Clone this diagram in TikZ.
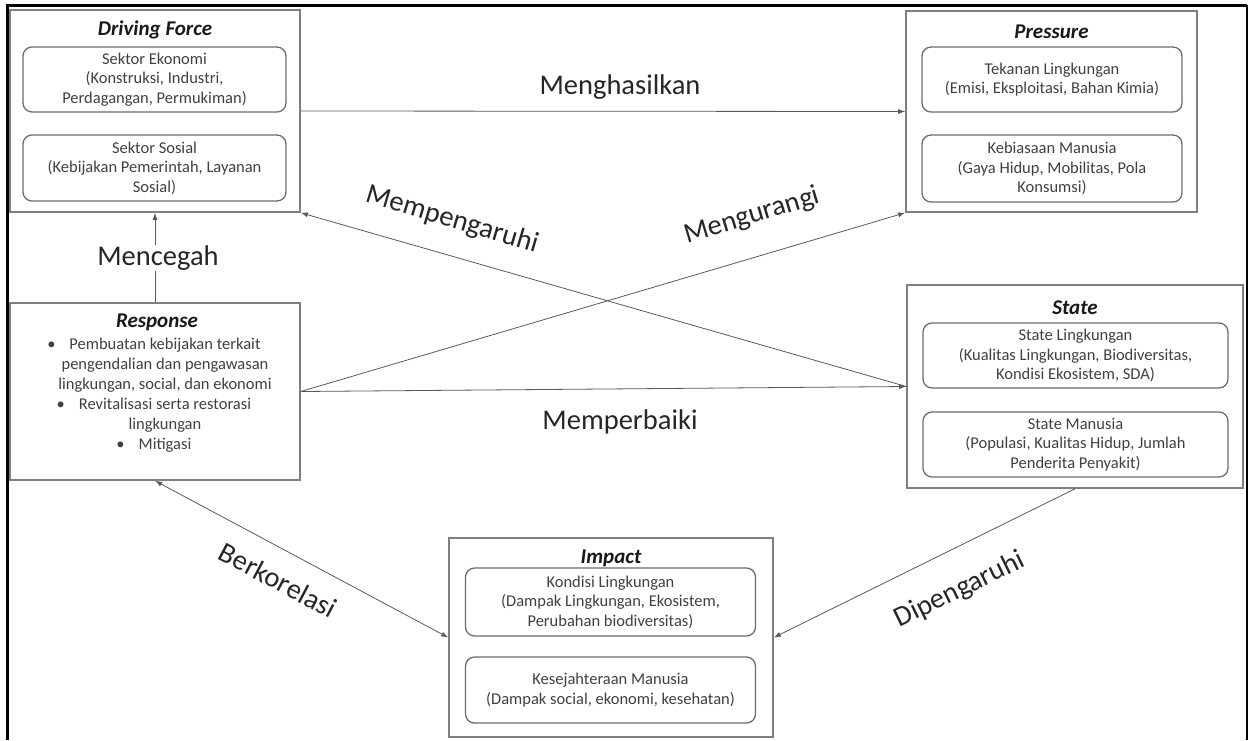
\documentclass[tikz,border=0pt]{standalone}
\usepackage{fontspec}
\setmainfont{Carlito}
\usetikzlibrary{arrows.meta}
\definecolor{boxgray}{HTML}{7F7F7F}
\definecolor{txtgray}{HTML}{404040}
\definecolor{linegray}{HTML}{595959}
\tikzset{
  outer/.style={draw=boxgray, line width=1.6pt, fill=white, inner sep=0pt},
  inbox/.style={draw=boxgray!85!black, line width=1.3pt, rounded corners=9pt, inner sep=0pt, align=center, text=txtgray, font=\fontsize{16.5}{19.5}\selectfont},
  ttl/.style={font=\fontsize{21}{25}\selectfont\bfseries\itshape, text=black!90, inner sep=0pt},
  bodytxt/.style={align=center, text=txtgray, inner sep=0pt, font=\fontsize{16.5}{20}\selectfont},
  conn/.style={draw=linegray, line width=0.8pt, -{Latex[length=7pt,width=5pt]}},
  lbl/.style={font=\fontsize{28.5}{32}\selectfont, text=black!85, inner sep=1pt},
}
\newcommand{\bul}{\llap{\textbullet\hspace{14pt}}}
\begin{document}
\begin{tikzpicture}[x=1pt,y=-1pt]
\useasboundingbox (0,0) rectangle (1248,740);
% frame
\draw[line width=3pt] (7,740) -- (7,5) -- (1247,5);
\draw[line width=2pt] (1247,5) -- (1247,740);

% Driving Force
\node[outer, minimum width=290pt, minimum height=202pt] (df) at (155,111) {};
\node[ttl] (dft) at (155,30) {Driving Force};
\node[inbox, minimum width=263pt, minimum height=65pt] (df1) at (154.5,79.5) {Sektor Ekonomi\\(Konstruksi, Industri,\\Perdagangan, Permukiman)};
\node[inbox, minimum width=263pt, minimum height=66pt] (df2) at (154.5,168) {Sektor Sosial\\(Kebijakan Pemerintah, Layanan\\Sosial)};

% Pressure
\node[outer, minimum width=291pt, minimum height=201pt] (pr) at (1051.5,111.5) {};
\node[ttl] (prt) at (1051.5,32) {Pressure};
\node[inbox, minimum width=260pt, minimum height=65pt] (pr1) at (1052,79.5) {Tekanan Lingkungan\\(Emisi, Eksploitasi, Bahan Kimia)};
\node[inbox, minimum width=260pt, minimum height=67pt] (pr2) at (1052,168.5) {Kebiasaan Manusia\\(Gaya Hidup, Mobilitas, Pola\\Konsumsi)};

% Response
\node[outer, minimum width=290pt, minimum height=177pt] (rs) at (155,391.5) {};
\node[ttl] (rst) at (157,322) {Response};
\node[bodytxt] (rsb) at (165,395) {\bul Pembuatan kebijakan terkait\\pengendalian dan pengawasan\\lingkungan, social, dan ekonomi\\\bul Revitalisasi serta restorasi\\lingkungan\\\bul Mitigasi};

% State
\node[outer, minimum width=336pt, minimum height=203pt] (st) at (1075,386.5) {};
\node[ttl] (stt) at (1075,308) {State};
\node[inbox, minimum width=305pt, minimum height=65pt] (st1) at (1075.5,355.5) {State Lingkungan\\(Kualitas Lingkungan, Biodiversitas,\\Kondisi Ekosistem, SDA)};
\node[inbox, minimum width=305pt, minimum height=65pt] (st2) at (1075.5,444.5) {State Manusia\\(Populasi, Kualitas Hidup, Jumlah\\Penderita Penyakit)};

% Impact
\node[outer, minimum width=324pt, minimum height=199pt] (im) at (611,637.5) {};
\node[ttl] (imt) at (611,558) {Impact};
\node[inbox, minimum width=290pt, minimum height=68pt] (im1) at (610.5,602) {Kondisi Lingkungan\\(Dampak Lingkungan, Ekosistem,\\Perubahan biodiversitas)};
\node[inbox, minimum width=290pt, minimum height=66pt] (im2) at (610.5,690) {Kesejahteraan Manusia\\(Dampak social, ekonomi, kesehatan)};

% connectors
\draw[conn] (df.east) -- (pr.west);
\draw[conn] (rs.north) -- (df.south);
\draw[conn] (st.west) -- (df.south east);
\draw[conn] (rs.east) -- (pr.south west);
\draw[conn] (rs.east) -- (st.west);
\draw[conn, {Latex[length=7pt,width=5pt]}-{Latex[length=7pt,width=5pt]}] (rs.south) -- (im.west);
\draw[conn] (st.south) -- (im.east);

% labels
\node[lbl] (l1) at (620,87) {Menghasilkan};
\node[lbl, fill=white] (l2) at (158,258) {Mencegah};
\node[lbl, rotate=-16.6] (l3) at (452,220) {Mempengaruhi};
\node[lbl, rotate=16.6] (l4) at (752,216) {Mengurangi};
\node[lbl] (l5) at (620,422) {Memperbaiki};
\node[lbl, rotate=-28] (l6) at (278,580) {Berkorelasi};
\node[lbl, rotate=26] (l7) at (960,590) {Dipengaruhi};
\end{tikzpicture}
\end{document}
